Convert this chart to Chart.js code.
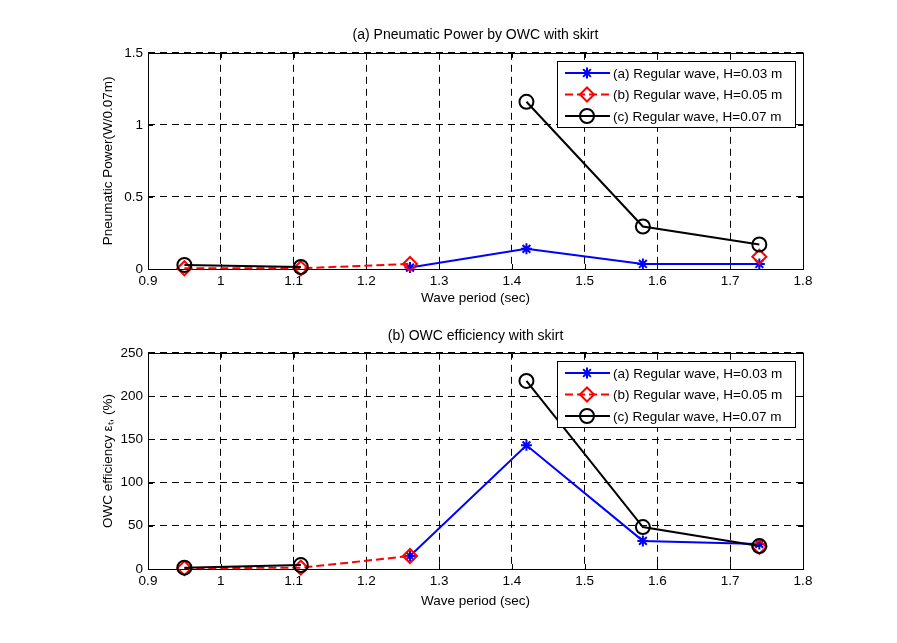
<!DOCTYPE html>
<html>
<head>
<meta charset="utf-8">
<script src="https://cdn.jsdelivr.net/npm/chart.js@4.4.0/dist/chart.umd.min.js"></script>
<style>
  body { margin: 0; background: #fff; width: 897px; height: 643px; overflow: hidden; position: relative; }
  .box { position: absolute; left: 0; width: 897px; }
</style>
</head>
<body>
<div class="box" style="top:0;height:310px"><canvas id="powerChart"></canvas></div>
<div class="box" style="top:310px;height:333px"><canvas id="effChart"></canvas></div>
<script>
// wave periods (sec)
var periods = [0.95, 1.11, 1.26, 1.42, 1.58, 1.74]
var seriesLabels = ['(a) Regular wave, H=0.03 m', '(b) Regular wave, H=0.05 m', '(c) Regular wave, H=0.07 m']

// pneumatic power (W/0.07m)
var powerA = [null, null, 0.01, 0.14, 0.035, 0.035]
var powerB = [0.005, 0.005, 0.035, null, null, 0.085]
var powerC = [0.028, 0.014, null, 1.16, 0.295, 0.17]

// OWC efficiency (%)
var effA = [null, null, 15, 143, 32.5, 29]
var effB = [1, 1.5, 15, null, null, 25.5]
var effC = [1.5, 4.5, null, 217.5, 48.5, 26.5]

var FONT = "'Liberation Sans', Arial, sans-serif"

function pts(arr) {
  return periods.map(function (x, i) { return { x: x, y: arr[i] } })
}

function makeSets(a, b, c) {
  return [{
    label: seriesLabels[0], data: pts(a),
    borderColor: '#0000ff', backgroundColor: 'rgba(0,0,0,0)', borderWidth: 2,
    pointStyle: 'star', pointRadius: 5.5, pointBorderWidth: 2,
    pointBorderColor: '#0000ff', pointBackgroundColor: 'rgba(0,0,0,0)',
    order: 3, clip: false
  }, {
    label: seriesLabels[1], data: pts(b),
    borderColor: '#ff0000', backgroundColor: 'rgba(0,0,0,0)', borderWidth: 2, borderDash: [8, 4],
    pointStyle: 'rectRot', pointRadius: 7, pointBorderWidth: 2,
    pointBorderColor: '#ff0000', pointBackgroundColor: 'rgba(0,0,0,0)',
    order: 2, clip: false
  }, {
    label: seriesLabels[2], data: pts(c),
    borderColor: '#000000', backgroundColor: 'rgba(0,0,0,0)', borderWidth: 2,
    pointStyle: 'circle', pointRadius: 7, pointBorderWidth: 2,
    pointBorderColor: '#000000', pointBackgroundColor: 'rgba(0,0,0,0)',
    order: 1, clip: false
  }]
}

// solid axes box with inward ticks, like matlab
var framePlugin = {
  id: 'frame',
  beforeDatasetsDraw: function (chart) {
    var ctx = chart.ctx, a = chart.chartArea
    var xs = chart.scales.x, ys = chart.scales.y
    ctx.save()
    ctx.strokeStyle = '#000'
    ctx.lineWidth = 1
    ctx.setLineDash([])
    ctx.strokeRect(Math.round(a.left) + 0.5, Math.round(a.top) + 0.5, Math.round(a.right - a.left), Math.round(a.bottom - a.top))
    ctx.beginPath()
    xs.ticks.forEach(function (t) {
      var px = Math.round(xs.getPixelForValue(t.value)) + 0.5
      ctx.moveTo(px, a.bottom); ctx.lineTo(px, a.bottom - 5)
      ctx.moveTo(px, a.top); ctx.lineTo(px, a.top + 5)
    })
    ys.ticks.forEach(function (t) {
      var py = Math.round(ys.getPixelForValue(t.value)) + 0.5
      ctx.moveTo(a.left, py); ctx.lineTo(a.left + 5, py)
      ctx.moveTo(a.right, py); ctx.lineTo(a.right - 5, py)
    })
    ctx.stroke()
    ctx.restore()
  }
}

// legend box inside the top right corner of the axes
var boxLegend = {
  id: 'boxLegend',
  afterDraw: function (chart) {
    var ctx = chart.ctx, a = chart.chartArea
    var w = 238, h = 66
    var left = Math.round(a.right - 8 - w), top = Math.round(a.top + 8)
    ctx.save()
    ctx.fillStyle = '#fff'
    ctx.fillRect(left, top, w, h)
    ctx.strokeStyle = '#000'
    ctx.lineWidth = 1
    ctx.setLineDash([])
    ctx.strokeRect(left + 0.5, top + 0.5, w, h)
    ctx.font = '13.5px ' + FONT
    ctx.textBaseline = 'middle'
    chart.data.datasets.forEach(function (ds, i) {
      var y = top + 12 + i * 21.5
      ctx.strokeStyle = ds.borderColor
      ctx.lineWidth = ds.borderWidth
      ctx.setLineDash(ds.borderDash || [])
      ctx.beginPath()
      ctx.moveTo(left + 8, y)
      ctx.lineTo(left + 53, y)
      ctx.stroke()
      ctx.setLineDash([])
      ctx.fillStyle = 'rgba(0,0,0,0)'
      ctx.lineWidth = ds.pointBorderWidth
      Chart.helpers.drawPoint(ctx, { pointStyle: ds.pointStyle, radius: ds.pointRadius, borderWidth: ds.pointBorderWidth, rotation: 0 }, left + 30, y)
      ctx.fillStyle = '#000'
      ctx.fillText(ds.label, left + 56, y + 1)
    })
    ctx.restore()
  }
}

function renderGraph(canvas_id, sets, yMax, yStep, yTitle, title, lay) {
  var font = { family: FONT, size: 13.5 }
  return new Chart(document.getElementById(canvas_id), {
    type: 'line',
    data: { datasets: sets },
    options: {
      responsive: true,
      maintainAspectRatio: false,
      animation: false,
      events: [],
      layout: { padding: { left: 100, right: 94, top: 0, bottom: lay.padBottom } },
      plugins: {
        legend: { display: false },
        tooltip: { enabled: false },
        title: {
          display: true, text: title, color: '#000', fullSize: false,
          font: { family: FONT, size: 14, weight: 'normal' },
          padding: { top: lay.titleTop, bottom: lay.titleBottom }
        }
      },
      scales: {
        x: {
          type: 'linear', min: 0.9, max: 1.8,
          ticks: { stepSize: 0.1, padding: 4, color: '#000', font: font, maxRotation: 0,
            callback: function (v) { return String(Number(v.toFixed(1))) } },
          grid: { color: '#000', lineWidth: 1, drawTicks: false },
          border: { display: false, dash: [7, 5] },
          title: { display: true, text: 'Wave period (sec)', color: '#000', font: font, padding: 0 },
          afterFit: function (s) { s.height = lay.xAxisH; s.paddingLeft = 0; s.paddingRight = 0 }
        },
        y: {
          type: 'linear', min: 0, max: yMax,
          ticks: { stepSize: yStep, padding: 5, color: '#000', font: font,
            callback: function (v) { return String(Number(v.toFixed(1))) } },
          grid: { color: '#000', lineWidth: 1, drawTicks: false },
          border: { display: false, dash: [7, 5] },
          title: { display: true, text: yTitle, color: '#000', font: font, padding: 0 },
          afterFit: function (s) { s.width = 48 }
        }
      }
    },
    plugins: [framePlugin, boxLegend]
  })
}

renderGraph('powerChart', makeSets(powerA, powerB, powerC), 1.5, 0.5,
  'Pneumatic Power(W/0.07m)', '(a) Pneumatic Power by OWC with skirt',
  { titleTop: 27, titleBottom: 9, xAxisH: 37, padBottom: 4 })

renderGraph('effChart', makeSets(effA, effB, effC), 250, 50,
  'OWC efficiency \u03b5\u209c, (%)', '(b) OWC efficiency with skirt',
  { titleTop: 18, titleBottom: 8, xAxisH: 40, padBottom: 34 })
</script>
</body>
</html>
